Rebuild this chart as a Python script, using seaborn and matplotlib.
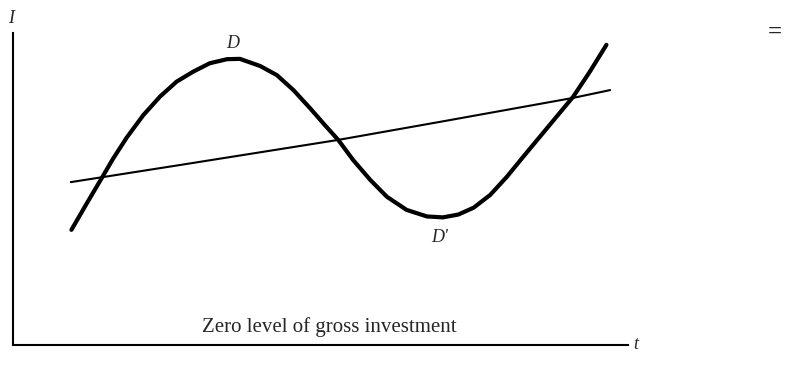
import seaborn as sns
import matplotlib.pyplot as plt
import pandas as pd

sns.set_style("white")
plt.rcParams['font.family'] = ['Liberation Serif', 'DejaVu Serif']

# 投資の循環曲線 (t, I) - 図から読み取った値
cycle_t = [9.5, 12.0, 14.4, 16.3, 18.5, 21.2, 23.9, 26.6, 29.3, 32.0, 34.8,
           36.9, 40.2, 42.9, 45.6, 48.3, 50.7, 52.9, 55.3, 58.1, 60.8, 64.0,
           67.3, 69.9, 72.4, 74.9, 77.6, 80.3, 83.0, 85.7, 88.4, 91.1, 93.8,
           96.5]
cycle_I = [36.9, 45.4, 53.4, 59.8, 66.5, 73.7, 79.6, 84.4, 87.6, 90.3, 91.6,
           91.7, 89.4, 86.5, 81.7, 75.9, 70.5, 65.7, 59.3, 52.9, 47.5, 43.3,
           41.2, 40.9, 41.8, 44.0, 48.1, 53.9, 60.4, 66.8, 73.2, 79.6, 87.6,
           96.2]

# トレンド線
trend_t = [9.4, 27.2, 52.8, 69.4, 91.1, 97.1]
trend_I = [52.2, 57.7, 65.7, 71.5, 79.2, 81.7]

cycle = pd.DataFrame({'t': cycle_t, 'I': cycle_I})
trend = pd.DataFrame({'t': trend_t, 'I': trend_I})

fig = plt.figure(figsize=(7.93, 3.66), dpi=100)
ax = fig.add_axes([0.0164, 0.0574, 0.7755, 0.8525])

sns.lineplot(data=cycle, x='t', y='I', sort=False, color='black',
             linewidth=3.0, ax=ax, solid_capstyle='round',
             solid_joinstyle='round')
sns.lineplot(data=trend, x='t', y='I', sort=False, color='black',
             linewidth=1.5, ax=ax, solid_joinstyle='round')

ax.set_xlim(0, 100)
ax.set_ylim(0, 100)
ax.set_xticks([])
ax.set_yticks([])
ax.set_xlabel('')
ax.set_ylabel('')
for side in ['top', 'right']:
    ax.spines[side].set_visible(False)
for side in ['left', 'bottom']:
    ax.spines[side].set_color('black')
    ax.spines[side].set_linewidth(1.5)

ax.text(35.8, 96.5, 'D', style='italic', fontsize=13, ha='center', va='center')
ax.text(69.4, 34.6, "D'", style='italic', fontsize=13, ha='center', va='center')
ax.text(51.5, 5.8, 'Zero level of gross investment', fontsize=15,
        ha='center', va='center')
ax.text(-0.3, 104.5, 'I', style='italic', fontsize=13, ha='center',
        va='center', clip_on=False)
ax.text(101.2, 0, 't', style='italic', fontsize=13, ha='center',
        va='center', clip_on=False)
fig.text(0.977, 0.912, '=', fontsize=18, fontweight='bold',
         ha='center', va='center')

fig.savefig('out.png', dpi=100)
